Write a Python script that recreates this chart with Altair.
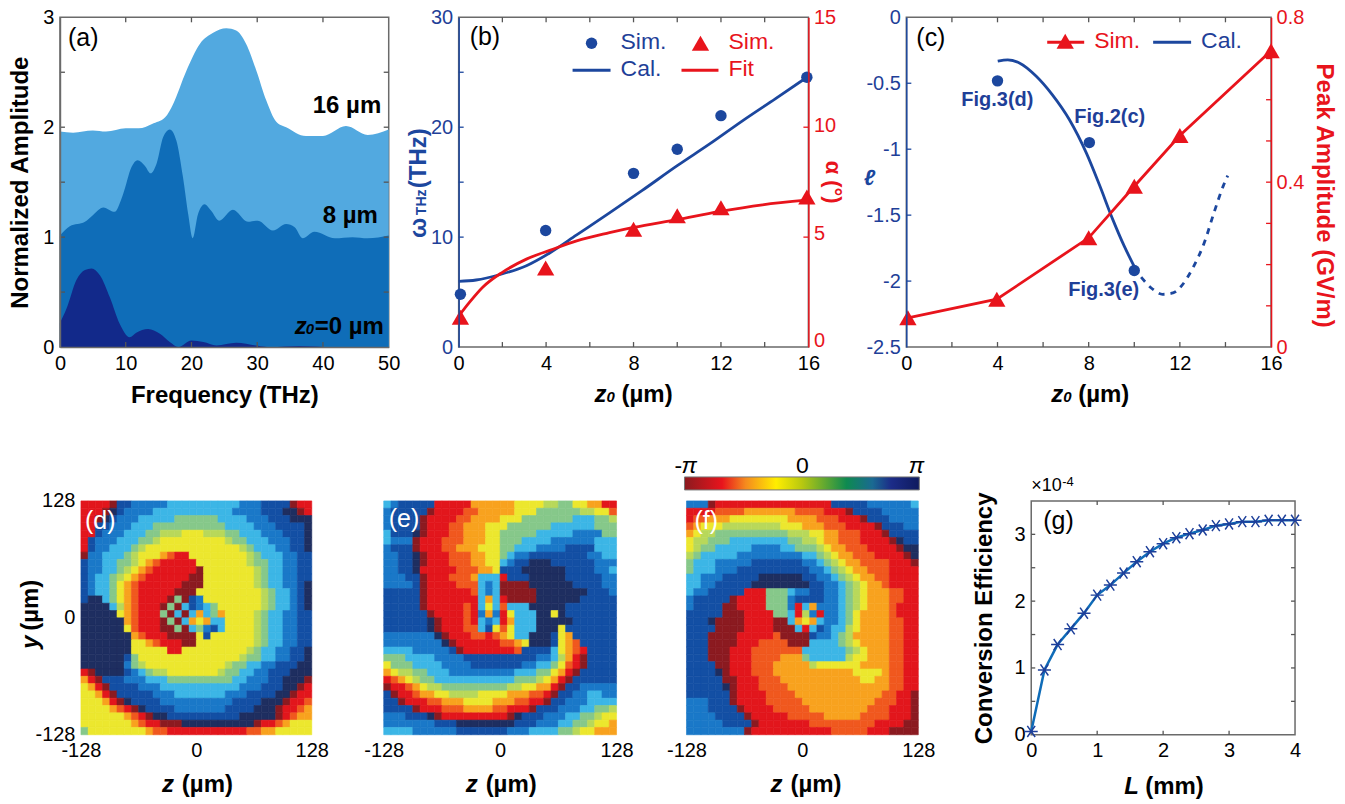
import altair as alt
import pandas as pd

BLUE = "#1c479e"
TXT_BLUE = "#1f3f98"
RED = "#e8141c"
FRAME = "#6a6a6a"
FONT = "Liberation Sans"

# ---- panel (a)
f16 = [0,2,5,7,10,12,14,16,17.2,19.2,21.3,23.3,25.3,26.8,28.3,29.9,31.4,32.9,34.4,37.4,40,43.5,46.8,50]
a16 = [1.96,1.95,1.97,1.96,1.99,1.99,2.03,2.09,2.21,2.51,2.76,2.86,2.90,2.88,2.76,2.51,2.24,2.05,2.0,1.92,1.92,2.01,1.93,1.98]
f8 = [0,1.5,3.8,5,6.6,8.3,9.6,10.9,11.8,12.9,13.8,14.7,15.7,16.7,17.7,18.7,19.5,20.2,21,22,23,24.2,26.3,28.6,30.1,32.4,34.4,35.7,36.9,38.7,41.8,44.5,46.8,50]
a8 = [1.015,1.10,1.14,1.2,1.27,1.23,1.39,1.64,1.70,1.65,1.58,1.67,1.91,1.98,1.88,1.55,1.21,0.99,1.21,1.30,1.24,1.15,1.25,1.14,1.15,1.06,1.12,1.09,0.99,1.05,0.99,1.0,0.99,1.015]
f0 = [0,1,2.5,3.8,4.8,6.1,7.6,9.1,10.6,11.6,13.4,15.2,16.7,18,20,21.8,23.8,26.8,30.1,31.9,36.4,41.5,50]
a0 = [0.22,0.35,0.61,0.70,0.715,0.65,0.45,0.21,0.09,0.13,0.165,0.12,0.045,0,0.06,0.045,0.015,0.04,0.012,0,0.01,0,0]
# ---- panel (b)
b_z = [0.08,3.98,8,10,12,15.93]
b_sim_w = [4.8,10.6,15.8,18,21.05,24.55]
b_sim_a = [1.36,3.6,5.36,5.97,6.34,6.83]
b_cal_z = [0,0.8,1.9,3.1,4.2,5.4,6.9,8.4,10,11.5,13,14.5,15.9]
b_cal_w = [5.98,6.1,6.6,7.4,8.6,10.2,12.2,14.25,16.5,18.5,20.6,22.6,24.5]
b_fit_z = [0,0.5,1.1,2,3.1,4.2,5.4,6.9,8,10,11.9,13.9,15.9]
b_fit_a = [1.4,2.04,2.72,3.4,4.0,4.41,4.83,5.2,5.44,5.8,6.16,6.47,6.68]
# ---- panel (c)
c_pts_z = [4,8.03,10]
c_pts_l = [-0.482,-0.95,-1.92]
c_cal_z = [4.01,4.45,4.96,5.7,6.4,7.15,7.9,8.47,9.05,9.56,10]
c_cal_l = [-0.333,-0.323,-0.346,-0.447,-0.586,-0.775,-1.03,-1.27,-1.53,-1.735,-1.89]
c_dash_z = [10.3,10.8,11.24,11.7,12.1,12.6,13.07,13.5,13.9,14.1]
c_dash_l = [-1.97,-2.06,-2.10,-2.09,-2.03,-1.89,-1.71,-1.48,-1.28,-1.2]
c_sim_z = [0.07,3.97,8,10,12,16]
c_sim_p = [0.071,0.116,0.265,0.39,0.513,0.719]
# ---- panel (g)
g_l = [0,0.2,0.4,0.6,0.8,1,1.2,1.4,1.6,1.8,2,2.2,2.4,2.6,2.8,3,3.2,3.4,3.6,3.8,4]
g_e = [.05,.97,1.35,1.585,1.82,2.09,2.24,2.42,2.59,2.74,2.86,2.95,3.01,3.065,3.13,3.155,3.19,3.19,3.21,3.21,3.21]

# ---- phase maps, read cell by cell (0 dark red ... 4 yellow ... 7 cyan ... a navy)
phase_keys = list("0123456789a")
phase_colors = ["#8b1a20","#e2161c","#f0581e","#f8a21e","#ece72e","#b8d85a","#86c88a","#3cb6e6","#1a78c8","#134fa4","#1e2e60"]

PHASE_D = [
"11110 99 88888 7777777777 888 9999 011",
"1110 a9 8888 77777777777 8888 999 aa 01",
"110 a 9 888 77777 666666 7777 888 999 aaa",
"11 99 888 777 6666666666 7777 888 9999 a",
"11 9 888 777 66 555 444 555 66 777 888 999 a",
"1 9 888 777 66 5 444444444 5 66 777 888 99 a",
"1 9 88 777 6 5 4444444444444 5 6 777 88 99 a",
"0 88 777 6 5 444 3211 44444444 5 6 777 88 99",
"9 88 77 66 5 4 3 2 11111 4444444 5 66 77 88 99",
"98 8 77 6 5 4 3 2 111111 0 4444444 5 6 77 88 99",
"98 77 6 5 4 3 2 111111 00 4444444 5 6 77 88 99",
"98 77 6 4 3 2 111111 000 4444444 5 6 77 88 9 a",
"98 77 6 4 3 2 11111 000 444444444 5 6 77 8 9 a",
"9aa 7 6 4 3 2 1111 06098 44444444 5 6 77 8 9 a",
"aaaa 7 5 3 2 111 0 6 0 7 9 8 7 6 444444 5 6 77 8 9 a",
"aaaaa 4 3 2 111 6 0 7 0 7 3 7 6 3 4444 5 6 77 88 99",
"aaaaaa 3 2 111 0 6 0 7 3 4 3 7 7 4444 5 6 77 88 99",
"aaaaaa 4 2 111 00 6 0 7 6 8 9 7 4444 5 6 77 88 99",
"aaaaaaa 3 2 111 0000 4 9 444444 5 6 77 88 99",
"aaaaaaa 44 3 2 111 00 44444444 5 6 77 88 99",
"aaaaaaa 44444 11 444444444 5 6 77 88 99 a",
"aaaaaa 9 6 44444444444444 5 66 77 88 99 a",
"aaaaaa 8 6 5 44444444444 5 66 77 88 999 aa",
"10 aaaa 9 8 7 6 55 4444444 5 66 77 88 999 aaa",
"310 999 888 777 666666666 77 888 99 aaa 0",
"4310 9999 888 77777777777 888 999 aa 01",
"443 1 0 99999 888 7777777 888 9999 aa 0 11",
"444 3 1 0 a 9999 8888888888 9999 aaa 0 11 2",
"4444 3 2 1 0 a 9999 8888888 9999 aaa 0 11 2 3",
"444444 3 2 1 0 aa 9999999999 aaaaa 0 1 2 33",
"4444444 3 2 11 000 aaaaaaaaaa 0 11 2 3 444",
"6 44444444 3 22 11111111111 22 33 44444",
]
PHASE_E = [
"7 8 99999 11111 333333 4444 5566 44 33 11",
"8 99999 0 1111 22 33333 444 666666 55 44 2",
"8 9999 0 1111 22 3333 444 6666666 777 66 5",
"8 9999 0 111 22 333 444 666666 777777 666",
"7 999 a 0 111 22 333 44 66666 77777 8888 66",
"7 888 0 111 222 333 44 666 7777 888888 777",
"8 999 0 111 22 333 444 66 777 8888 9999 777",
"88 99 a 0 111 222 33 44 6 7 88 99999999 88 77",
"88 99 a 0 111 222 33 44 7 8 99 aaa 999999 888",
"88 99 a 1 1111 222 33 4 999 aaaaaa 9999 88 7",
"888 99 0 111 222 3 77 7 1 999 aaaaa 99999 88",
"8888 9 0 1111 222 787 0000 aaaaaa 9999 88",
"99999 0 11 1111 2 787 00000 aaaaaaa 999 8",
"99999 0 111111 1 7 3 7 1 0000 aaaaaa 99999",
"99999 0 11111 2 1 7 4 7 2 777 aaaaa 9999999",
"999999 0 1111 2 1 8 3 8 1 4 777 aa 4 a 9999999",
"999999 a 0 111 2 1 7 8 7 1 3 777 aaaa a 999999",
"999999 a 0 111 22 7 9 4 2 4 777 aaa 4 9999999",
"8888888 a 0 111 22 1 2 3 4 77 aaa 9 4 3 999999",
"88888888 a 0 111111 22 3 4 aaa 9 4 3 2 99999",
"7777 88888 9 0 1111111 2 9999 7 4 3 2 1 9999",
"666 7777 8888 99999 99999 88 7 5 3 1 0 9999",
"4 666 7777 8888 9999999 88 77 6 4 2 1 0 9999",
"3 4 55 66 777 888888888 777 66 4 3 1 0 99999",
"1 2 3 4 5 66 777 77777777 666 5 4 3 1 0 999999",
"0 11 2 3 4 55 666666666 55 44 33 1 0 99 88888",
"9 0 11 2 33 44 5555 4444 333 22 1 0 99 88 77 88",
"99 0 111 22 333 4444 333 22 11 0 99 888 7777",
"9999 0 111 222 3333 22 111 0 999 888 77 66 5",
"888 999 a 0 111111111 0 a 999 888 77 66 5 44",
"8888888 999 aaaaaaaa 999 888 77 66 5 44 3",
"7777 888888 9999999 888 7777 66 5 44 333",
]
PHASE_F = [
"8880 1111111111111111 99999 888888 7",
"1111 2222 3333333 2222 111 0 9999 88888",
"1 22 333 44444444 3333 222 111 0 999 8888",
"2 3 444 55555555 444 333 222 1111 0 999 88",
"3 4 55 6666666666 555 44 33 222 111 0 9999",
"4 55 666 77777777 66 55 4 33 222 1111 0 a 99",
"4 5 66 77777 8888 77 666 5 4 33 222 1111 0 aa",
"5 6 77777 8888888 88 77 6 5 4 33 222 1111 0 a",
"6 777 88888 9999999 88 7 6 5 4 33 2222 111 0",
"6 777 888 9999999999 88 7 6 5 4 33 222 1111",
"77 888 99999 aaaaaa 99 88 7 6 5 4 33 22 1111",
"77 88 99999 aaaaaaaa 99 88 7 6 5 4 33 2 1111",
"7 88 99999 111 666 7 88 99 88 7 6 5 4 333 22 11",
"8 99999 0 1111 666 8 9999 88 7 6 5 4 333 22 11",
"8 9999 00 1111 666 8 1 7 3 8 88 7 6 5 4 333 2 111",
"99999 000 1111 66 7 1 5 8 1 8 8 7 6 4 3333 2 111",
"999 a 0000 1111 00 7 3 4 3 7 88 7 6 4 3333 22 11",
"9999 0000 1111 000 7 1 7 9 8 77 5 4 3333 22 11",
"999 0000 11111 2 0000 9 88 7 6 5 33333 22 11",
"999 0000 111 2222 000 7777 6 5 4 3333 22 11",
"999 000 111 222222 2 777777 6 5 4 333 22 11",
"999 000 111 2222 333 6 77777 5 44 333 22 11",
"9999 00 111 222 33333 5 444444 3333 22 11",
"9999 a 0 111 222 33333333333 4444 3 22 11",
"99999 00 111 222 33333333333 44 33 22 11",
"99999 a 0 111 2222 33333333333333 22 11",
"999999 0 1111 2222 333333333333 22 11 0",
"888999 0 1111 22222 3333333333 222 11 0",
"8889999 0 1111 22222 33333333 222 111 0",
"88889999 0 11111 22222 33333 2222 111 0",
"888889999 0 1111111 222222222 1111 00",
"88888888 0 11111111111 22222 111 0000",
]

# ---- colour bar of panel (f)
bar_stops = [(0,"#8b1a1f"),(0.16,"#e8141c"),(0.26,"#f58a1e"),(0.39,"#ffee00"),(0.5,"#b8c810"),(0.69,"#0e8a50"),(0.8,"#1a6a92"),(0.88,"#1c2c88"),(1,"#0f1a5e")]
phase_range = [-3.1416, 3.1416]

ONE = alt.Data(values=[{}])
BOLD = 24


def text(s, x, y, origin, size=20, color="black", bold=False, italic=False, angle=0, align="left", baseline="middle"):
    kw = {}
    if angle:
        kw["angle"] = angle
    return alt.Chart(ONE).mark_text(
        text=s, font=FONT, fontSize=size, color=color,
        fontWeight="bold" if bold else "normal",
        fontStyle="italic" if italic else "normal",
        align=align, baseline=baseline, **kw
    ).encode(x=alt.value(x - origin[0]), y=alt.value(y - origin[1]))


def spacer(w, h):
    return alt.Chart(ONE).mark_point(opacity=0).encode(x=alt.value(0), y=alt.value(0)).properties(width=w, height=h)


def xticks(vals, scale, h, color="#555555", ln=5):
    d = pd.DataFrame({"v": vals})
    e = alt.X("v:Q", scale=scale, axis=None)
    top = alt.Chart(d).mark_rule(color=color, strokeWidth=1.3).encode(x=e, y=alt.value(0), y2=alt.value(ln))
    bot = alt.Chart(d).mark_rule(color=color, strokeWidth=1.3).encode(x=e, y=alt.value(h), y2=alt.value(h - ln))
    return [top, bot]


def yticks(vals, scale, x0, x1, color="#555555"):
    d = pd.DataFrame({"v": vals})
    return alt.Chart(d).mark_rule(color=color, strokeWidth=1.3).encode(
        y=alt.Y("v:Q", scale=scale, axis=None), x=alt.value(x0), x2=alt.value(x1))


def ax(**kw):
    base = dict(grid=False, ticks=False, labelFontSize=20, labelFont=FONT, labelColor="black", labelPadding=6,
                domainColor=FRAME, domainWidth=1.5, title=None, labelOverlap=False, titleFont=FONT,
                titleFontSize=BOLD, titleFontWeight="bold", labelFlush=False)
    base.update(kw)
    return alt.Axis(**base)


def key_line(x1, x2, y, color, o):
    return alt.Chart(ONE).mark_rule(color=color, strokeWidth=2.8).encode(
        x=alt.value(x1 - o[0]), x2=alt.value(x2 - o[0]), y=alt.value(y - o[1]))


def key_point(x, y, color, shape, size, o):
    return alt.Chart(ONE).mark_point(shape=shape, filled=True, color=color, size=size, opacity=1).encode(
        x=alt.value(x - o[0]), y=alt.value(y - o[1]))


def frame(w, h):
    return dict(width=w, height=h, view=alt.ViewConfig(stroke=FRAME, strokeWidth=1.5))


# ---------- (a)
oa = (60, 16)
Wa, Ha = 329, 330
xa = alt.Scale(domain=[0, 50], nice=False, zero=False)
ya = alt.Scale(domain=[0, 3], nice=False)


def area(f, v, col, first=False):
    return alt.Chart(pd.DataFrame({"f": f, "v": v})).mark_area(color=col, interpolate="monotone", opacity=1).encode(
        x=alt.X("f:Q", scale=xa, axis=ax(values=[0,10,20,30,40,50], title="Frequency (THz)", titlePadding=10, zindex=1) if first else None),
        y=alt.Y("v:Q", scale=ya, axis=ax(values=[0,1,2,3], title="Normalized Amplitude", titlePadding=10, zindex=1) if first else None),
    )


a_panel = alt.layer(
    area(f16, a16, "#52a9e0", True), area(f8, a8, "#0f6db8"), area(f0, a0, "#12298a"),
    *xticks([10,20,30,40], xa, Ha),
    yticks([0.5,1,1.5,2,2.5], ya, 0, 5), yticks([0.5,1,1.5,2,2.5], ya, Wa, Wa - 5),
    text("(a)", 68, 37, oa, size=25),
    text("16 µm", 313, 105, oa, size=BOLD, bold=True),
    text("8 µm", 323, 215, oa, size=BOLD, bold=True),
    text("z", 295, 333, oa, size=BOLD, bold=True, italic=True, baseline="alphabetic"),
    text("0", 306, 333, oa, size=15, bold=True, italic=True, baseline="alphabetic"),
    text("=0 µm", 315, 333, oa, size=BOLD, bold=True, baseline="alphabetic"),
).resolve_axis(x="independent", y="independent").properties(**frame(Wa, Ha))

# ---------- (b)
ob = (459, 16)
Wb, Hb = 350, 330
xb = alt.Scale(domain=[0, 16], nice=False, zero=False)
yl = alt.Scale(domain=[0, 30], nice=False)
yr = alt.Scale(domain=[0, 15], nice=False)
x_ax_16 = ax(values=[0,4,8,12,16], zindex=1, domain=False)
red_label_shift = {"condition": [{"test": "datum.value === 15", "value": 0},
                                 {"test": "datum.value === 10", "value": -2},
                                 {"test": "datum.value === 5", "value": -4}], "value": -7}

b_panel = alt.layer(
    alt.Chart(pd.DataFrame({"z": b_cal_z, "v": b_cal_w})).mark_line(color=BLUE, strokeWidth=2.8, interpolate="monotone").encode(
        x=alt.X("z:Q", scale=xb, axis=x_ax_16),
        y=alt.Y("v:Q", scale=yl, axis=ax(orient="left", values=[0,10,20,30], labelColor=TXT_BLUE, domainColor=BLUE, zindex=1))),
    alt.Chart(pd.DataFrame({"z": b_fit_z, "v": b_fit_a})).mark_line(color=RED, strokeWidth=2.8, interpolate="monotone").encode(
        x=alt.X("z:Q", scale=xb, axis=None),
        y=alt.Y("v:Q", scale=yr, axis=ax(orient="right", values=[0,5,10,15], labelColor=RED, domainColor=RED, labelOffset=red_label_shift, labelPadding=5, zindex=1))),
    alt.Chart(pd.DataFrame({"z": b_z, "v": b_sim_w})).mark_circle(color=BLUE, size=130, opacity=1).encode(
        x=alt.X("z:Q", scale=xb, axis=None), y=alt.Y("v:Q", scale=yl, axis=None)),
    alt.Chart(pd.DataFrame({"z": b_z, "v": b_sim_a})).mark_point(shape="triangle-up", filled=True, color=RED, size=300, opacity=1).encode(
        x=alt.X("z:Q", scale=xb, axis=None), y=alt.Y("v:Q", scale=yr, axis=None)),
    *xticks([2,4,6,8,10,12,14], xb, Hb),
    yticks([5,10,15,20,25], yl, 0, 5, BLUE), yticks([5,10], yr, Wb, Wb - 5, RED),
    text("(b)", 470, 36, ob, size=25),
    key_point(592, 42, BLUE, "circle", 130, ob), text("Sim.", 621, 41, ob, size=23, color=TXT_BLUE),
    key_point(701, 42, RED, "triangle-up", 300, ob), text("Sim.", 729, 41, ob, size=23, color=RED),
    key_line(573, 611, 69, BLUE, ob), text("Cal.", 621, 68, ob, size=23, color=TXT_BLUE),
    key_line(682, 719, 69, RED, ob), text("Fit", 729, 68, ob, size=23, color=RED),
    text("ω", 426, 237, ob, size=BOLD, color=BLUE, bold=True, angle=270, baseline="alphabetic"),
    text("THz", 426, 214, ob, size=14, color=BLUE, bold=True, angle=270, baseline="alphabetic"),
    text("(THz)", 426, 187, ob, size=BOLD, color=BLUE, bold=True, angle=270, baseline="alphabetic"),
    text("α (°)", 834, 181, ob, size=22, color=RED, bold=True, angle=90, align="center"),
    text("z", 595, 401, ob, size=BOLD, bold=True, italic=True, baseline="alphabetic"),
    text("0", 607, 401, ob, size=15, bold=True, italic=True, baseline="alphabetic"),
    text("(µm)", 622, 401, ob, size=BOLD, bold=True, baseline="alphabetic"),
).resolve_scale(y="independent").resolve_axis(x="independent").properties(**frame(Wb, Hb))

# ---------- (c)
oc = (907, 16)
Wc, Hc = 365, 330
xc = alt.Scale(domain=[0, 16], nice=False, zero=False)
yc = alt.Scale(domain=[-2.5, 0], nice=False, zero=False)
yp = alt.Scale(domain=[0, 0.8], nice=False)

c_panel = alt.layer(
    alt.Chart(pd.DataFrame({"z": c_cal_z, "v": c_cal_l})).mark_line(color=BLUE, strokeWidth=2.8, interpolate="monotone").encode(
        x=alt.X("z:Q", scale=xc, axis=x_ax_16),
        y=alt.Y("v:Q", scale=yc, axis=ax(orient="left", values=[0,-0.5,-1,-1.5,-2,-2.5], labelExpr="''+datum.value", labelColor=TXT_BLUE, domainColor=BLUE, zindex=1))),
    alt.Chart(pd.DataFrame({"z": c_dash_z, "v": c_dash_l})).mark_line(color=BLUE, strokeWidth=2.8, strokeDash=[6, 6], interpolate="monotone").encode(
        x=alt.X("z:Q", scale=xc, axis=None), y=alt.Y("v:Q", scale=yc, axis=None)),
    alt.Chart(pd.DataFrame({"z": c_pts_z, "v": c_pts_l})).mark_circle(color=BLUE, size=130, opacity=1).encode(
        x=alt.X("z:Q", scale=xc, axis=None), y=alt.Y("v:Q", scale=yc, axis=None)),
    alt.Chart(pd.DataFrame({"z": c_sim_z, "v": c_sim_p})).mark_line(color=RED, strokeWidth=2.8).encode(
        x=alt.X("z:Q", scale=xc, axis=None),
        y=alt.Y("v:Q", scale=yp, axis=ax(orient="right", values=[0,0.4,0.8], labelExpr="''+datum.value", labelColor=RED, domainColor=RED, labelPadding=5, zindex=1,
                                          title="Peak Amplitude (GV/m)", titleColor=RED, titlePadding=8, titleY=178))),
    alt.Chart(pd.DataFrame({"z": c_sim_z, "v": c_sim_p})).mark_point(shape="triangle-up", filled=True, color=RED, size=300, opacity=1).encode(
        x=alt.X("z:Q", scale=xc, axis=None), y=alt.Y("v:Q", scale=yp, axis=None)),
    *xticks([2,4,6,8,10,12,14], xc, Hc),
    yticks([-0.5,-1,-1.5,-2], yc, 0, 5, BLUE), yticks([0.1,0.2,0.3,0.4,0.5,0.6,0.7], yp, Wc, Wc - 5, RED),
    text("(c)", 917, 37, oc, size=25),
    key_line(1048, 1085, 41, RED, oc), key_point(1066, 40, RED, "triangle-up", 300, oc),
    text("Sim.", 1095, 40, oc, size=23, color=RED),
    key_line(1154, 1192, 41, BLUE, oc), text("Cal.", 1202, 40, oc, size=23, color=TXT_BLUE),
    text("Fig.3(d)", 962, 99, oc, size=20, bold=True, color=TXT_BLUE),
    text("Fig.2(c)", 1075, 116, oc, size=20, bold=True, color=TXT_BLUE),
    text("Fig.3(e)", 1069, 289, oc, size=20, bold=True, color=TXT_BLUE),
    text("ℓ", 870, 177, oc, size=22, bold=True, italic=True, color=BLUE, align="center"),
    text("z", 1052, 401, oc, size=BOLD, bold=True, italic=True, baseline="alphabetic"),
    text("0", 1064, 401, oc, size=15, bold=True, italic=True, baseline="alphabetic"),
    text("(µm)", 1079, 401, oc, size=BOLD, bold=True, baseline="alphabetic"),
).resolve_scale(y="independent").resolve_axis(x="independent").properties(**frame(Wc, Hc))


# ---------- phase maps
def cells(rows):
    out = []
    for r, row in enumerate(rows):
        for c, k in enumerate(row.replace(" ", "")):
            out.append({"z0": -128 + 8 * c, "z1": -120 + 8 * c, "y0": 128 - 8 * r, "y1": 120 - 8 * r, "k": k})
    return pd.DataFrame(out)


def phase_layers(rows, label, lx, ly, origin, title_x, show_y=False):
    sc = alt.Scale(domain=[-128, 128], nice=False, zero=False)
    col = alt.Scale(domain=phase_keys, range=phase_colors)
    labs = [
        text(label, lx, ly, origin, size=25, color="white"),
        text("z", title_x, 793, origin, size=BOLD, bold=True, italic=True, baseline="alphabetic"),
        text("(µm)", title_x + 20, 793, origin, size=BOLD, bold=True, baseline="alphabetic"),
    ]
    if show_y:
        labs += [
            text("y", 38, 650, origin, size=BOLD, bold=True, italic=True, angle=270, baseline="alphabetic"),
            text("(µm)", 38, 632, origin, size=BOLD, bold=True, angle=270, baseline="alphabetic"),
        ]
    m = alt.Chart(cells(rows)).mark_rect(strokeWidth=0.6).encode(
        x=alt.X("z0:Q", scale=sc, axis=ax(values=[-128,0,128], labelExpr="''+datum.value", domain=False)),
        x2="z1:Q",
        y=alt.Y("y0:Q", scale=sc, axis=ax(values=[-128,0,128], labelExpr="''+datum.value", domain=False) if show_y else None),
        y2="y1:Q",
        fill=alt.Color("k:N", scale=col, legend=None),
        stroke=alt.Color("k:N", scale=col, legend=None),
    )
    return [m] + labs


R2H = 234
VIEW0 = alt.ViewConfig(stroke=None)
d_panel = alt.layer(*phase_layers(PHASE_D, "(d)", 85, 522, (81, 502), 162, True)).properties(width=231, height=R2H, view=VIEW0)
e_panel = alt.layer(*phase_layers(PHASE_E, "(e)", 389, 520, (384, 502), 466)).properties(width=233, height=R2H, view=VIEW0)

# ---------- (f) with its colour bar above it
of = (687, 502)
bar_scale = alt.Scale(domain=phase_range, nice=False, zero=False, range=[-2, 233])
bar = alt.Chart(pd.DataFrame({"a": [phase_range[0]], "b": [phase_range[1]]})).mark_rect(
    color=alt.LinearGradient(gradient="linear", stops=[alt.GradientStop(offset=o, color=c) for o, c in bar_stops], x1=0, x2=1, y1=0, y2=0),
    stroke="#777777", strokeWidth=1
).encode(x=alt.X("a:Q", scale=bar_scale, axis=None), x2="b:Q", y=alt.value(478 - of[1]), y2=alt.value(491 - of[1]))
f_panel = alt.layer(
    *phase_layers(PHASE_F, "(f)", 695, 522, of, 771),
    bar,
    text("-", 675, 467, of, size=23),
    text("π", 682, 467, of, size=23, italic=True),
    text("0", 803, 467, of, size=23, align="center"),
    text("π", 917, 467, of, size=23, italic=True, align="center"),
).resolve_scale(x="independent").properties(width=232, height=R2H, view=VIEW0)

# ---------- (g)
og = (1032, 502)
Wg, Hg = 264, R2H
xg = alt.Scale(domain=[0, 4], nice=False, zero=False)
yg = alt.Scale(domain=[0, 3.5], nice=False)
STAR = "M-1,0L1,0M-0.6,-0.85L0.6,0.85M-0.6,0.85L0.6,-0.85"
g_df = pd.DataFrame({"l": g_l, "e": g_e})
g_panel = alt.layer(
    alt.Chart(g_df).mark_line(color="#0f6cb8", strokeWidth=2.5).encode(
        x=alt.X("l:Q", scale=xg, axis=ax(values=[0,1,2,3,4], domain=False)),
        y=alt.Y("e:Q", scale=yg, axis=ax(values=[0,1,2,3], title="Conversion Efficiency", titlePadding=18, domain=False))),
    alt.Chart(g_df).mark_point(shape=STAR, filled=False, color="#1d3f9a", size=170, strokeWidth=1.5, opacity=1).encode(
        x=alt.X("l:Q", scale=xg, axis=None), y=alt.Y("e:Q", scale=yg, axis=None)),
    *xticks([1,2,3], xg, Hg, ln=4),
    yticks([0.5,1,1.5,2,2.5,3], yg, 0, 4), yticks([0.5,1,1.5,2,2.5,3], yg, Wg, Wg - 4),
    text("(g)", 1044, 522, og, size=25),
    text("×10", 1032, 487, og, size=18),
    text("-4", 1063, 483, og, size=13),
    text("L", 1125, 795, og, size=BOLD, bold=True, italic=True, baseline="alphabetic"),
    text("(mm)", 1146, 795, og, size=BOLD, bold=True, baseline="alphabetic"),
).resolve_axis(x="independent", y="independent").properties(**frame(Wg, Hg))

row1 = alt.hconcat(a_panel, spacer(70, 1), b_panel, spacer(98, 1), c_panel, spacing=0, bounds="flush")
row2 = alt.hconcat(spacer(21, 1), d_panel, spacer(72, 1), e_panel, spacer(70, 1), f_panel, spacer(113, 1), g_panel, spacing=0, bounds="flush")

chart = alt.vconcat(row1, row2, spacing=47).properties(
    padding={"left": 0, "top": -2, "right": 0, "bottom": 0}, background="white"
).configure_view(stroke=None)

chart.save("out.html", embed_options={"renderer": "svg", "actions": False})
